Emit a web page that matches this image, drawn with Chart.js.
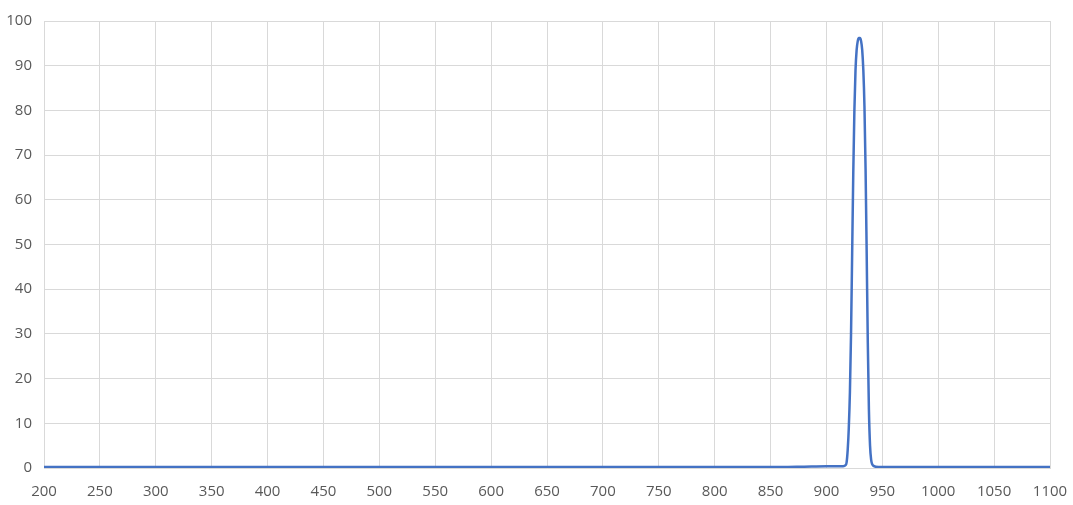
<!DOCTYPE html>
<html>
<head>
<meta charset="utf-8">
<script src="https://cdn.jsdelivr.net/npm/chart.js@4"></script>
<style>
  html, body { margin: 0; padding: 0; background: #fff; }
  #wrap { width: 1073px; height: 505px; }
</style>
</head>
<body>
<div id="wrap"><canvas id="myChart"></canvas></div>
<script>
// wavelength (nm) and transmission (%)
const wavelengths = [200, 300, 400, 500, 600, 700, 800, 860, 880, 900, 910, 915, 917, 918, 919, 920, 921, 922, 923, 924, 925, 926, 927, 928, 929, 930, 931, 932, 933, 934, 935, 936, 937, 938, 939, 940, 941, 942, 944, 950, 1000, 1100];
const transmission = [0.2, 0.2, 0.2, 0.2, 0.2, 0.2, 0.2, 0.2, 0.3, 0.4, 0.4, 0.4, 0.6, 1.2, 4, 9, 17, 30, 48, 66, 80, 89, 93.5, 95.5, 96.2, 96.2, 95.5, 93.5, 89, 81, 67, 48, 28, 13, 5, 1.8, 0.8, 0.5, 0.3, 0.2, 0.2, 0.2];

const xMin = 200, xMax = 1100, xStep = 50;
const yMin = 0, yMax = 100, yStep = 10;

const points = wavelengths.map((w, i) => ({ x: w, y: transmission[i] }));

const tickFont = { family: 'Open Sans', size: 15 };
const gridColor = '#d9d9d9';

const ctx = document.getElementById('myChart').getContext('2d');
const myChart = new Chart(ctx, {
  type: 'line',
  data: {
    datasets: [{
      data: points,
      borderColor: '#4472c4',
      borderWidth: 2.5,
      pointRadius: 0,
      fill: false,
      cubicInterpolationMode: 'monotone'
    }]
  },
  options: {
    responsive: true,
    maintainAspectRatio: false,
    animation: false,
    layout: { padding: { top: 20, right: 23, left: 0, bottom: 0 } },
    plugins: { legend: { display: false }, tooltip: { enabled: false } },
    scales: {
      x: {
        type: 'linear',
        min: xMin,
        max: xMax,
        afterFit: (scale) => {
          scale.height = 37;
          scale.paddingLeft = 0;
          scale.paddingRight = 0;
        },
        ticks: {
          stepSize: xStep, color: '#595959', font: tickFont, padding: 15,
          maxRotation: 0, autoSkip: false,
          callback: (v) => String(v)  // no thousands separator
        },
        grid: { color: gridColor, lineWidth: 1, drawTicks: false },
        border: { color: gridColor }
      },
      y: {
        min: yMin,
        max: yMax,
        afterFit: (scale) => { scale.width = 44; },
        ticks: { stepSize: yStep, color: '#595959', font: tickFont, padding: 12 },
        grid: { color: gridColor, lineWidth: 1, drawTicks: false },
        border: { color: gridColor }
      }
    }
  }
});
</script>
</body>
</html>
